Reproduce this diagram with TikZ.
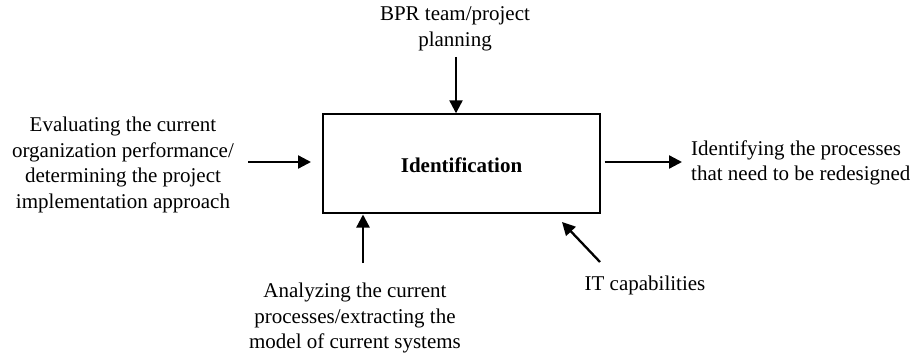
\documentclass[tikz,border=0pt]{standalone}
\usepackage{fontspec}
\setmainfont{Liberation Serif}
\usetikzlibrary{arrows.meta}
\begin{document}
\begin{tikzpicture}[x=1pt,y=-1pt,
  lbl/.style={align=center,font=\fontsize{21}{25.5}\selectfont,inner sep=0pt},
  flow/.style={line width=2.3pt,-{Triangle[length=13pt,width=13pt]}},
  procbox/.style={draw,line width=1.4pt,minimum width=277pt,minimum height=99pt,inner sep=0pt}]
\useasboundingbox (0,0) rectangle (923,353);
% central process
\node[procbox] (box) at (461.5,163.5) {};
\node[font=\fontsize{21}{25}\selectfont\bfseries] (title) at (461.5,165) {Identification};
% labels
\node[lbl] (ctrl) at (455,29) {BPR team/project\\planning};
\node[lbl] (input) at (123,165) {Evaluating the current\\organization performance/\\determining the project\\implementation approach};
\node[lbl,align=left,anchor=west] (output) at (691,163) {Identifying the processes\\that need to be redesigned};
\node[lbl] (mech) at (355,318) {Analyzing the current\\processes/extracting the\\model of current systems};
\node[lbl] (it) at (645,285) {IT capabilities};
% arrow end points
\coordinate (c0) at (456,57);
\coordinate (i0) at (248,162);
\coordinate (o1) at (682,162);
\coordinate (m0) at (363,263);
\coordinate (t0) at (600,262);
\coordinate (t1) at (562,222);
\draw[flow] (c0) -- (c0 |- box.north);
\draw[flow] (i0) -- (311,162);
\draw[flow] (box.east |- o1) ++(4,0) -- (o1);
\draw[flow] (m0) -- (363,214.5);
\draw[flow] (t0) -- (t1);
\end{tikzpicture}
\end{document}
